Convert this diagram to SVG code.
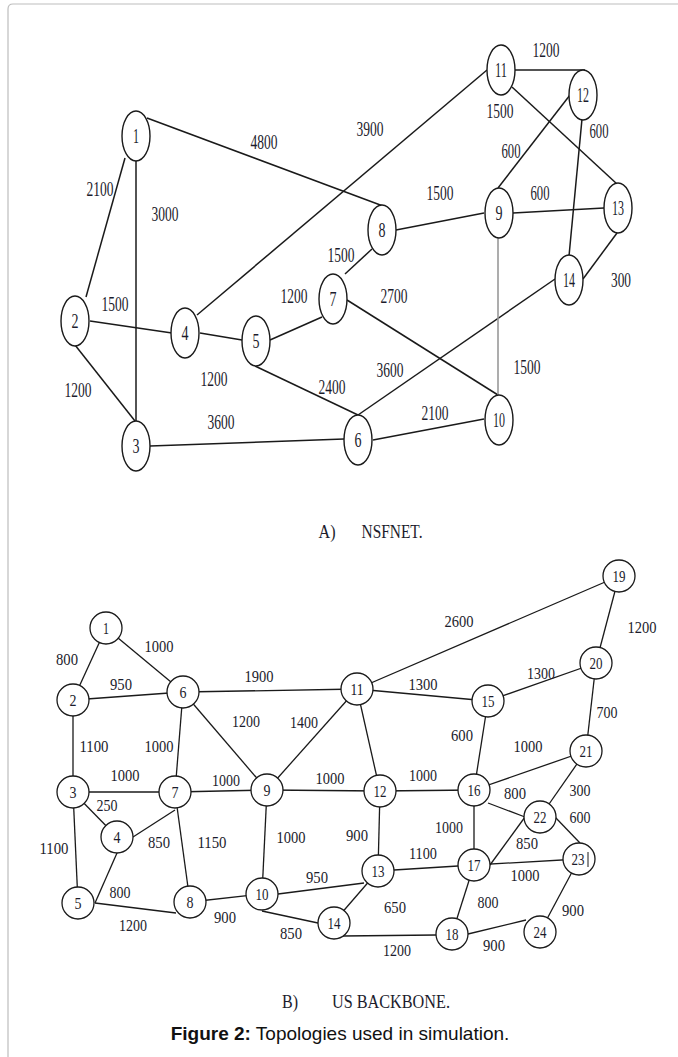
<svg xmlns="http://www.w3.org/2000/svg" width="678" height="1057" viewBox="0 0 678 1057">
<style>
.e{stroke:#1a1a1a;stroke-width:1.5;fill:none}
.eg{stroke:#999;stroke-width:1.6;fill:none}
.u{stroke:#1a1a1a;stroke-width:1.3;fill:none}
.n ellipse{fill:#fff;stroke:#1a1a1a;stroke-width:1.4}
.n circle{fill:#fff;stroke:#1a1a1a;stroke-width:1.3}
text{font-family:"Liberation Serif","Times New Roman",serif;fill:#1c1c2c;text-anchor:middle}
.a{font-size:20px}
.b{font-size:17px}
.cap{font-size:18px}
.fig{font-family:"Liberation Sans",Arial,sans-serif;font-size:19px;fill:#111}
</style>
<rect width="678" height="1057" fill="#fff"/>
<path d="M8 1057 V9 Q8 4 13 4 H678" fill="none" stroke="#bdbdbd" stroke-width="1.2"/>

<!-- NSFNET connectors -->
<g id="nsf-edges">
<line class="e" x1="147" y1="118" x2="383" y2="206"/>
<line class="e" x1="125" y1="158" x2="86" y2="297"/>
<line class="e" x1="136" y1="161" x2="136" y2="421"/>
<line class="e" x1="90" y1="321" x2="172" y2="333"/>
<line class="e" x1="75" y1="345" x2="135" y2="421"/>
<line class="e" x1="150" y1="446" x2="344" y2="439"/>
<line class="e" x1="200" y1="333" x2="242" y2="340"/>
<line class="e" x1="197" y1="315" x2="487" y2="70"/>
<line class="e" x1="270" y1="340" x2="322" y2="317"/>
<line class="e" x1="255" y1="366" x2="358" y2="415"/>
<line class="e" x1="345" y1="274" x2="372" y2="249"/>
<line class="e" x1="347" y1="300" x2="498" y2="395"/>
<line class="e" x1="358" y1="415" x2="555" y2="279"/>
<line class="e" x1="373" y1="440" x2="484" y2="419"/>
<line class="e" x1="396" y1="230" x2="484" y2="213"/>
<line class="e" x1="498" y1="188" x2="570" y2="95"/>
<line class="e" x1="513" y1="213" x2="604" y2="208"/>
<line class="eg" x1="498" y1="238" x2="498" y2="395"/>
<line class="e" x1="515" y1="70" x2="585" y2="70"/>
<line class="e" x1="512" y1="87" x2="617" y2="184"/>
<line class="e" x1="582" y1="119" x2="569" y2="256"/>
<line class="e" x1="617" y1="233" x2="583" y2="279"/>
</g>

<!-- NSFNET nodes -->
<g id="nsf-n1" class="n"><ellipse cx="136" cy="136" rx="14" ry="25"/><text class="a" x="136" y="143" textLength="6" lengthAdjust="spacingAndGlyphs">1</text></g>
<g id="nsf-n2" class="n"><ellipse cx="75" cy="321" rx="14" ry="25"/><text class="a" x="75" y="328" textLength="7" lengthAdjust="spacingAndGlyphs">2</text></g>
<g id="nsf-n3" class="n"><ellipse cx="136" cy="446" rx="14" ry="25"/><text class="a" x="136" y="453" textLength="7" lengthAdjust="spacingAndGlyphs">3</text></g>
<g id="nsf-n4" class="n"><ellipse cx="185" cy="333" rx="14" ry="25"/><text class="a" x="185" y="340" textLength="7" lengthAdjust="spacingAndGlyphs">4</text></g>
<g id="nsf-n5" class="n"><ellipse cx="256" cy="341" rx="14" ry="25"/><text class="a" x="256" y="348" textLength="7" lengthAdjust="spacingAndGlyphs">5</text></g>
<g id="nsf-n6" class="n"><ellipse cx="358" cy="440" rx="14" ry="25"/><text class="a" x="358" y="447" textLength="7" lengthAdjust="spacingAndGlyphs">6</text></g>
<g id="nsf-n7" class="n"><ellipse cx="333" cy="299" rx="14" ry="25"/><text class="a" x="333" y="306" textLength="7" lengthAdjust="spacingAndGlyphs">7</text></g>
<g id="nsf-n8" class="n"><ellipse cx="382" cy="230" rx="14" ry="25"/><text class="a" x="382" y="237" textLength="7" lengthAdjust="spacingAndGlyphs">8</text></g>
<g id="nsf-n9" class="n"><ellipse cx="499" cy="213" rx="14" ry="25"/><text class="a" x="499" y="220" textLength="7" lengthAdjust="spacingAndGlyphs">9</text></g>
<g id="nsf-n10" class="n"><ellipse cx="499" cy="420" rx="14" ry="25"/><text class="a" x="499" y="427" textLength="12" lengthAdjust="spacingAndGlyphs">10</text></g>
<g id="nsf-n11" class="n"><ellipse cx="501" cy="70" rx="14" ry="25"/><text class="a" x="501" y="77" textLength="12" lengthAdjust="spacingAndGlyphs">11</text></g>
<g id="nsf-n12" class="n"><ellipse cx="583" cy="95" rx="14" ry="25"/><text class="a" x="583" y="102" textLength="12" lengthAdjust="spacingAndGlyphs">12</text></g>
<g id="nsf-n13" class="n"><ellipse cx="618" cy="208" rx="14" ry="25"/><text class="a" x="618" y="215" textLength="12" lengthAdjust="spacingAndGlyphs">13</text></g>
<g id="nsf-n14" class="n"><ellipse cx="569" cy="280" rx="14" ry="25"/><text class="a" x="569" y="287" textLength="12" lengthAdjust="spacingAndGlyphs">14</text></g>

<!-- NSFNET edge labels -->
<g id="nsf-labels" class="a">
<text x="264" y="149" textLength="27" lengthAdjust="spacingAndGlyphs">4800</text>
<text x="100" y="196" textLength="27" lengthAdjust="spacingAndGlyphs">2100</text>
<text x="165" y="221" textLength="27" lengthAdjust="spacingAndGlyphs">3000</text>
<text x="341" y="262" textLength="27" lengthAdjust="spacingAndGlyphs">1500</text>
<text x="370" y="136" textLength="27" lengthAdjust="spacingAndGlyphs">3900</text>
<text x="546" y="57" textLength="27" lengthAdjust="spacingAndGlyphs">1200</text>
<text x="500" y="118" textLength="27" lengthAdjust="spacingAndGlyphs">1500</text>
<text x="599" y="138" textLength="19" lengthAdjust="spacingAndGlyphs">600</text>
<text x="511" y="158" textLength="19" lengthAdjust="spacingAndGlyphs">600</text>
<text x="440" y="200" textLength="27" lengthAdjust="spacingAndGlyphs">1500</text>
<text x="540" y="200" textLength="19" lengthAdjust="spacingAndGlyphs">600</text>
<text x="621" y="287" textLength="20" lengthAdjust="spacingAndGlyphs">300</text>
<text x="394" y="303" textLength="27" lengthAdjust="spacingAndGlyphs">2700</text>
<text x="390" y="377" textLength="27" lengthAdjust="spacingAndGlyphs">3600</text>
<text x="527" y="374" textLength="27" lengthAdjust="spacingAndGlyphs">1500</text>
<text x="435" y="420" textLength="27" lengthAdjust="spacingAndGlyphs">2100</text>
<text x="115" y="311" textLength="27" lengthAdjust="spacingAndGlyphs">1500</text>
<text x="294" y="303" textLength="27" lengthAdjust="spacingAndGlyphs">1200</text>
<text x="78" y="397" textLength="27" lengthAdjust="spacingAndGlyphs">1200</text>
<text x="214" y="386" textLength="27" lengthAdjust="spacingAndGlyphs">1200</text>
<text x="332" y="394" textLength="27" lengthAdjust="spacingAndGlyphs">2400</text>
<text x="221" y="429" textLength="27" lengthAdjust="spacingAndGlyphs">3600</text>
</g>

<text class="cap" x="327" y="538" textLength="17" lengthAdjust="spacingAndGlyphs">A)</text>
<text class="cap" x="392" y="538" textLength="61" lengthAdjust="spacingAndGlyphs">NSFNET.</text>

<!-- US backbone connectors -->
<g id="us-edges">
<line class="u" x1="106" y1="628" x2="73" y2="700"/>
<line class="u" x1="106" y1="628" x2="183" y2="692"/>
<line class="u" x1="73" y1="700" x2="183" y2="692"/>
<line class="u" x1="73" y1="700" x2="73" y2="792"/>
<line class="u" x1="183" y1="692" x2="357" y2="689"/>
<line class="u" x1="183" y1="692" x2="267" y2="790"/>
<line class="u" x1="183" y1="692" x2="175" y2="792"/>
<line class="u" x1="73" y1="792" x2="175" y2="792"/>
<line class="u" x1="73" y1="792" x2="117" y2="837"/>
<line class="u" x1="73" y1="792" x2="78" y2="903"/>
<line class="u" x1="133" y1="837" x2="175" y2="810"/>
<line class="u" x1="117" y1="853" x2="95" y2="903"/>
<line class="u" x1="175" y1="792" x2="267" y2="790"/>
<line class="u" x1="175" y1="792" x2="190" y2="902"/>
<line class="u" x1="95" y1="903" x2="176" y2="913"/>
<line class="u" x1="190" y1="902" x2="262" y2="894"/>
<line class="u" x1="267" y1="790" x2="357" y2="689"/>
<line class="u" x1="267" y1="790" x2="380" y2="791"/>
<line class="u" x1="267" y1="790" x2="262" y2="894"/>
<line class="u" x1="278" y1="894" x2="364" y2="883"/>
<line class="u" x1="262" y1="911" x2="318" y2="923"/>
<line class="u" x1="357" y1="689" x2="619" y2="576"/>
<line class="u" x1="357" y1="689" x2="488" y2="701"/>
<line class="u" x1="357" y1="689" x2="380" y2="791"/>
<line class="u" x1="488" y1="701" x2="596" y2="663"/>
<line class="u" x1="619" y1="576" x2="596" y2="663"/>
<line class="u" x1="596" y1="663" x2="586" y2="751"/>
<line class="u" x1="488" y1="701" x2="474" y2="790"/>
<line class="u" x1="380" y1="791" x2="474" y2="790"/>
<line class="u" x1="380" y1="791" x2="378" y2="871"/>
<line class="u" x1="474" y1="790" x2="586" y2="751"/>
<line class="u" x1="488" y1="803" x2="525" y2="817"/>
<line class="u" x1="474" y1="790" x2="474" y2="865"/>
<line class="u" x1="586" y1="751" x2="540" y2="817"/>
<line class="u" x1="555" y1="817" x2="580" y2="843"/>
<line class="u" x1="525" y1="817" x2="490" y2="865"/>
<line class="u" x1="378" y1="871" x2="474" y2="865"/>
<line class="u" x1="474" y1="865" x2="579" y2="859"/>
<line class="u" x1="378" y1="871" x2="333" y2="923"/>
<line class="u" x1="474" y1="865" x2="452" y2="934"/>
<line class="u" x1="343" y1="936" x2="436" y2="935"/>
<line class="u" x1="468" y1="934" x2="526" y2="920"/>
<line class="u" x1="579" y1="859" x2="540" y2="932"/>
</g>

<!-- US backbone nodes -->
<g id="us-n1" class="n"><circle cx="106" cy="628" r="16"/><text class="b" x="106" y="634" textLength="6" lengthAdjust="spacingAndGlyphs">1</text></g>
<g id="us-n2" class="n"><circle cx="73" cy="700" r="16"/><text class="b" x="73" y="706" textLength="7" lengthAdjust="spacingAndGlyphs">2</text></g>
<g id="us-n3" class="n"><circle cx="73" cy="792" r="16"/><text class="b" x="73" y="798" textLength="7" lengthAdjust="spacingAndGlyphs">3</text></g>
<g id="us-n4" class="n"><circle cx="117" cy="837" r="16"/><text class="b" x="117" y="843" textLength="7" lengthAdjust="spacingAndGlyphs">4</text></g>
<g id="us-n5" class="n"><circle cx="78" cy="903" r="16"/><text class="b" x="78" y="909" textLength="7" lengthAdjust="spacingAndGlyphs">5</text></g>
<g id="us-n6" class="n"><circle cx="183" cy="692" r="16"/><text class="b" x="183" y="698" textLength="7" lengthAdjust="spacingAndGlyphs">6</text></g>
<g id="us-n7" class="n"><circle cx="175" cy="792" r="16"/><text class="b" x="175" y="798" textLength="7" lengthAdjust="spacingAndGlyphs">7</text></g>
<g id="us-n8" class="n"><circle cx="190" cy="902" r="16"/><text class="b" x="190" y="908" textLength="7" lengthAdjust="spacingAndGlyphs">8</text></g>
<g id="us-n9" class="n"><circle cx="267" cy="790" r="16"/><text class="b" x="267" y="796" textLength="7" lengthAdjust="spacingAndGlyphs">9</text></g>
<g id="us-n10" class="n"><circle cx="262" cy="894" r="16"/><text class="b" x="262" y="900" textLength="13" lengthAdjust="spacingAndGlyphs">10</text></g>
<g id="us-n11" class="n"><circle cx="357" cy="689" r="16"/><text class="b" x="357" y="695" textLength="13" lengthAdjust="spacingAndGlyphs">11</text></g>
<g id="us-n12" class="n"><circle cx="380" cy="791" r="16"/><text class="b" x="380" y="797" textLength="13" lengthAdjust="spacingAndGlyphs">12</text></g>
<g id="us-n13" class="n"><circle cx="378" cy="871" r="16"/><text class="b" x="378" y="877" textLength="13" lengthAdjust="spacingAndGlyphs">13</text></g>
<g id="us-n14" class="n"><circle cx="334" cy="923" r="16"/><text class="b" x="334" y="929" textLength="13" lengthAdjust="spacingAndGlyphs">14</text></g>
<g id="us-n15" class="n"><circle cx="488" cy="701" r="16"/><text class="b" x="488" y="707" textLength="13" lengthAdjust="spacingAndGlyphs">15</text></g>
<g id="us-n16" class="n"><circle cx="474" cy="790" r="16"/><text class="b" x="474" y="796" textLength="13" lengthAdjust="spacingAndGlyphs">16</text></g>
<g id="us-n17" class="n"><circle cx="474" cy="865" r="16"/><text class="b" x="474" y="871" textLength="13" lengthAdjust="spacingAndGlyphs">17</text></g>
<g id="us-n18" class="n"><circle cx="452" cy="934" r="16"/><text class="b" x="452" y="940" textLength="13" lengthAdjust="spacingAndGlyphs">18</text></g>
<g id="us-n19" class="n"><circle cx="619" cy="576" r="16"/><text class="b" x="619" y="582" textLength="13" lengthAdjust="spacingAndGlyphs">19</text></g>
<g id="us-n20" class="n"><circle cx="596" cy="663" r="16"/><text class="b" x="596" y="669" textLength="13" lengthAdjust="spacingAndGlyphs">20</text></g>
<g id="us-n21" class="n"><circle cx="586" cy="751" r="16"/><text class="b" x="586" y="757" textLength="13" lengthAdjust="spacingAndGlyphs">21</text></g>
<g id="us-n22" class="n"><circle cx="540" cy="817" r="16"/><text class="b" x="540" y="823" textLength="13" lengthAdjust="spacingAndGlyphs">22</text></g>
<g id="us-n23" class="n"><circle cx="579" cy="859" r="16"/><text class="b" x="578" y="865" textLength="13" lengthAdjust="spacingAndGlyphs">23</text><line x1="588" y1="852" x2="588" y2="867" stroke="#1a1a1a" stroke-width="1"/></g>
<g id="us-n24" class="n"><circle cx="540" cy="932" r="16"/><text class="b" x="540" y="938" textLength="13" lengthAdjust="spacingAndGlyphs">24</text></g>

<!-- US backbone edge labels -->
<g id="us-labels" class="b">
<text x="67" y="665" textLength="22" lengthAdjust="spacingAndGlyphs">800</text>
<text x="159" y="652" textLength="29" lengthAdjust="spacingAndGlyphs">1000</text>
<text x="121" y="690" textLength="22" lengthAdjust="spacingAndGlyphs">950</text>
<text x="259" y="682" textLength="29" lengthAdjust="spacingAndGlyphs">1900</text>
<text x="246" y="727" textLength="28" lengthAdjust="spacingAndGlyphs">1200</text>
<text x="304" y="728" textLength="28" lengthAdjust="spacingAndGlyphs">1400</text>
<text x="94" y="752" textLength="29" lengthAdjust="spacingAndGlyphs">1100</text>
<text x="159" y="752" textLength="29" lengthAdjust="spacingAndGlyphs">1000</text>
<text x="125" y="781" textLength="29" lengthAdjust="spacingAndGlyphs">1000</text>
<text x="107" y="811" textLength="21" lengthAdjust="spacingAndGlyphs">250</text>
<text x="226" y="786" textLength="28" lengthAdjust="spacingAndGlyphs">1000</text>
<text x="330" y="784" textLength="29" lengthAdjust="spacingAndGlyphs">1000</text>
<text x="54" y="854" textLength="29" lengthAdjust="spacingAndGlyphs">1100</text>
<text x="159" y="848" textLength="22" lengthAdjust="spacingAndGlyphs">850</text>
<text x="212" y="848" textLength="29" lengthAdjust="spacingAndGlyphs">1150</text>
<text x="291" y="843" textLength="29" lengthAdjust="spacingAndGlyphs">1000</text>
<text x="120" y="898" textLength="21" lengthAdjust="spacingAndGlyphs">800</text>
<text x="133" y="931" textLength="28" lengthAdjust="spacingAndGlyphs">1200</text>
<text x="225" y="923" textLength="22" lengthAdjust="spacingAndGlyphs">900</text>
<text x="317" y="883" textLength="22" lengthAdjust="spacingAndGlyphs">950</text>
<text x="291" y="939" textLength="22" lengthAdjust="spacingAndGlyphs">850</text>
<text x="357" y="841" textLength="22" lengthAdjust="spacingAndGlyphs">900</text>
<text x="459" y="627" textLength="29" lengthAdjust="spacingAndGlyphs">2600</text>
<text x="642" y="633" textLength="29" lengthAdjust="spacingAndGlyphs">1200</text>
<text x="541" y="679" textLength="28" lengthAdjust="spacingAndGlyphs">1300</text>
<text x="423" y="690" textLength="29" lengthAdjust="spacingAndGlyphs">1300</text>
<text x="607" y="718" textLength="21" lengthAdjust="spacingAndGlyphs">700</text>
<text x="462" y="741" textLength="22" lengthAdjust="spacingAndGlyphs">600</text>
<text x="528" y="752" textLength="29" lengthAdjust="spacingAndGlyphs">1000</text>
<text x="423" y="781" textLength="28" lengthAdjust="spacingAndGlyphs">1000</text>
<text x="515" y="799" textLength="22" lengthAdjust="spacingAndGlyphs">800</text>
<text x="580" y="796" textLength="21" lengthAdjust="spacingAndGlyphs">300</text>
<text x="580" y="823" textLength="21" lengthAdjust="spacingAndGlyphs">600</text>
<text x="449" y="833" textLength="28" lengthAdjust="spacingAndGlyphs">1000</text>
<text x="527" y="849" textLength="22" lengthAdjust="spacingAndGlyphs">850</text>
<text x="423" y="859" textLength="28" lengthAdjust="spacingAndGlyphs">1100</text>
<text x="525" y="881" textLength="29" lengthAdjust="spacingAndGlyphs">1000</text>
<text x="395" y="913" textLength="22" lengthAdjust="spacingAndGlyphs">650</text>
<text x="488" y="908" textLength="21" lengthAdjust="spacingAndGlyphs">800</text>
<text x="573" y="916" textLength="22" lengthAdjust="spacingAndGlyphs">900</text>
<text x="397" y="956" textLength="28" lengthAdjust="spacingAndGlyphs">1200</text>
<text x="494" y="951" textLength="22" lengthAdjust="spacingAndGlyphs">900</text>
</g>

<text class="cap" x="290" y="1008" font-size="16" textLength="16" lengthAdjust="spacingAndGlyphs">B)</text>
<text class="cap" x="391" y="1008" font-size="16" textLength="118" lengthAdjust="spacingAndGlyphs">US BACKBONE.</text>

<text class="fig" x="340" y="1040"><tspan font-weight="bold">Figure 2:</tspan> Topologies used in simulation.</text>
</svg>
